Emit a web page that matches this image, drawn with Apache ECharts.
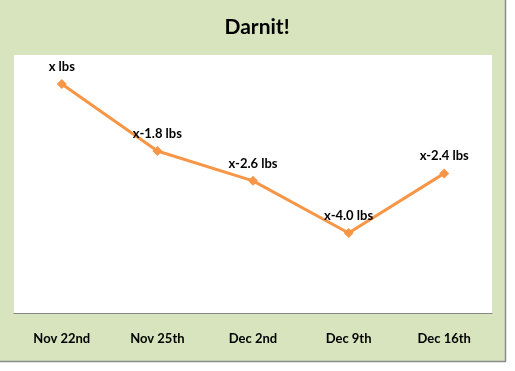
<!DOCTYPE html>
<html><head><meta charset="utf-8">
<script src="https://cdn.jsdelivr.net/npm/echarts@6/dist/echarts.min.js"></script>
<style>html,body{margin:0;padding:0;background:#fff;}#c{width:515px;height:371px;}</style>
</head><body><div id="c"></div>
<script>
const categories = ['Nov 22nd', 'Nov 25th', 'Dec 2nd', 'Dec 9th', 'Dec 16th'];
const changes = [0, -1.8, -2.6, -4.0, -2.4];
const pointLabels = ['x lbs', 'x-1.8 lbs', 'x-2.6 lbs', 'x-4.0 lbs', 'x-2.4 lbs'];
const titleText = 'Darnit!';

const chart = echarts.init(document.getElementById('c'), null, {renderer: 'canvas'});
chart.setOption({
  backgroundColor: '#ffffff',
  animation: false,
  graphic: [{
    type: 'rect', z: -10, silent: true,
    shape: {x: -2, y: -2, width: 507.5, height: 363.5},
    style: {fill: '#D7E4BD', stroke: '#8a8a8a', lineWidth: 1.5}
  }],
  title: {
    text: titleText, left: 252, top: 12, textAlign: 'center',
    textStyle: {fontFamily: 'Lato', fontWeight: 'bold', fontSize: 21, color: '#000'}
  },
  grid: {
    left: 14, top: 55, width: 478, height: 258,
    show: true, backgroundColor: '#ffffff', borderWidth: 0
  },
  xAxis: {
    type: 'category', data: categories, boundaryGap: true,
    axisLine: {show: true, onZero: false, lineStyle: {color: '#868686', width: 1}},
    axisTick: {show: false},
    axisLabel: {margin: 19, fontFamily: 'Lato', fontWeight: 'bold', fontSize: 13, color: '#000'}
  },
  yAxis: {
    type: 'value', min: -6.15, max: 0.78, show: false,
    splitLine: {show: false}
  },
  series: [{
    type: 'line', data: changes,
    lineStyle: {color: '#F79646', width: 3},
    itemStyle: {color: '#F79646'},
    symbol: 'diamond', symbolSize: 10,
    label: {
      show: true, position: 'top', distance: 6,
      formatter: p => pointLabels[p.dataIndex],
      fontFamily: 'Lato', fontWeight: 'bold', fontSize: 13, color: '#000'
    }
  }]
});
</script></body></html>
